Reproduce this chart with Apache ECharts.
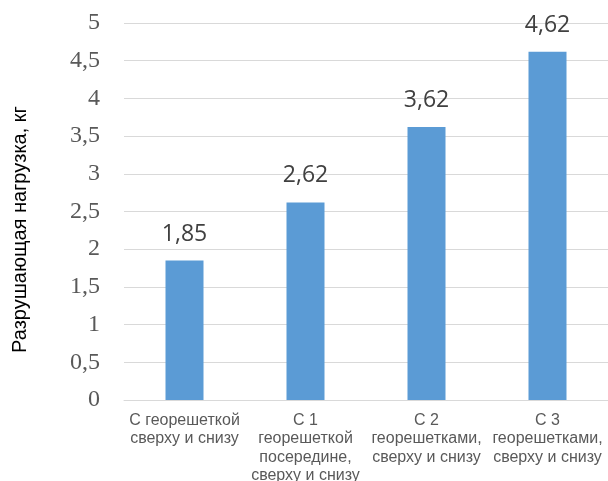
<!DOCTYPE html>
<html>
<head>
<meta charset="utf-8">
<script src="https://cdn.jsdelivr.net/npm/echarts@6/dist/echarts.min.js"></script>
<style>
html,body{margin:0;padding:0;background:#fff;}
#chart{width:608px;height:481px;}
</style>
</head>
<body>
<div id="chart"></div>
<script>
var categories = [
  "С георешеткой\nсверху и снизу",
  "С 1\nгеорешеткой\nпосередине,\nсверху и снизу",
  "С 2\nгеорешетками,\nсверху и снизу",
  "С 3\nгеорешетками,\nсверху и снизу"
];
var values = [1.85, 2.62, 3.62, 4.62];
var yAxisName = "Разрушающая нагрузка, кг";

function fmt(v) { return String(v).replace('.', ','); }

var chart = echarts.init(document.getElementById('chart'));
chart.setOption({
  animation: false,
  backgroundColor: '#ffffff',
  grid: { left: 124, right: 0, top: 23, bottom: 81, containLabel: false, outerBoundsMode: 'none' },
  xAxis: {
    type: 'category',
    data: categories,
    axisLine: { show: true, lineStyle: { color: '#d9d9d9', width: 1 } },
    axisTick: { show: false },
    axisLabel: {
      interval: 0,
      margin: 11,
      color: '#595959',
      fontFamily: 'Liberation Sans, Arial, sans-serif',
      fontSize: 16,
      lineHeight: 18.5
    }
  },
  yAxis: {
    type: 'value',
    min: 0,
    max: 5,
    interval: 0.5,
    name: yAxisName,
    nameLocation: 'middle',
    nameGap: 94,
    nameTextStyle: {
      color: '#000000',
      fontFamily: 'Liberation Sans, Arial, sans-serif',
      fontSize: 20,
      padding: [0, 36, 0, 0]
    },
    axisLine: { show: false },
    axisTick: { show: false },
    splitLine: { show: true, lineStyle: { color: '#d9d9d9', width: 1 } },
    axisLabel: {
      margin: 24,
      color: '#595959',
      fontFamily: 'Liberation Serif, Times New Roman, serif',
      fontSize: 24,
      formatter: function (v) { return fmt(v); }
    }
  },
  series: [{
    type: 'bar',
    data: values,
    barWidth: 38,
    itemStyle: { color: '#5b9bd5' },
    label: {
      show: true,
      position: 'top',
      distance: 15,
      color: '#404040',
      fontFamily: 'Open Sans, Liberation Sans, sans-serif',
      fontSize: 23,
      formatter: function (p) { return fmt(p.value); }
    }
  }]
});
</script>
</body>
</html>
